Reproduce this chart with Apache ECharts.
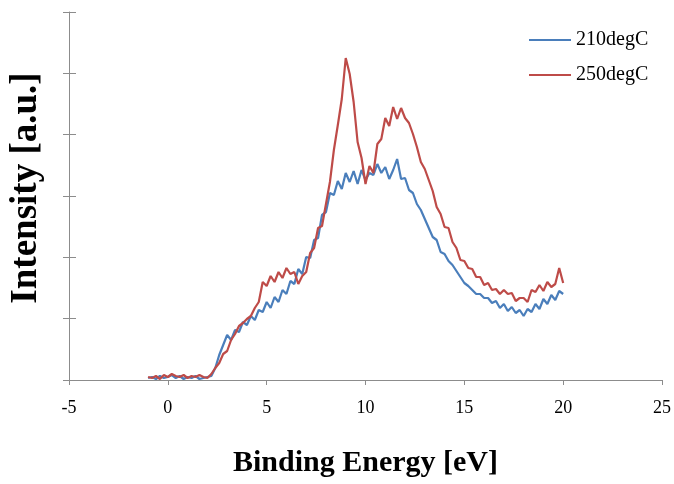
<!DOCTYPE html>
<html><head><meta charset="utf-8">
<script src="https://cdn.jsdelivr.net/npm/echarts@6/dist/echarts.min.js"></script>
<style>html,body{margin:0;padding:0;background:#fff}#c{width:674px;height:484px}</style>
</head><body><div id="c"></div>
<script>
const energies = [
 -1.0,-0.8,-0.6,-0.4,-0.2,0.0,0.2,0.4,0.6,0.8,
 1.0,1.2,1.4,1.6,1.8,2.0,2.2,2.4,2.6,2.8,
 3.0,3.2,3.4,3.6,3.8,4.0,4.2,4.4,4.6,4.8,
 5.0,5.2,5.4,5.6,5.8,6.0,6.2,6.4,6.6,6.8,
 7.0,7.2,7.4,7.6,7.8,8.0,8.2,8.4,8.6,8.8,
 9.0,9.2,9.4,9.6,9.8,10.0,10.2,10.4,10.6,10.8,
 11.0,11.2,11.4,11.6,11.8,12.0,12.2,12.4,12.6,12.8,
 13.0,13.2,13.4,13.6,13.8,14.0,14.2,14.4,14.6,14.8,
 15.0,15.2,15.4,15.6,15.8,16.0,16.2,16.4,16.6,16.8,
 17.0,17.2,17.4,17.6,17.8,18.0,18.2,18.4,18.6,18.8,
 19.0,19.2,19.4,19.6,19.8,20.0
];
const s210 = [
 2,3,1,4,2,3,5,2,4,1,3,2,4,1,2,3,
 4,12,25,35,45,40,50,48,58,55,
 64,60,70,68,78,72,83,78,90,86,
 99,96,111,106,123,122,140,142,165,168,
 187,185,199,191,207,198,209,196,210,200,
 207,205,216,207,213,201,210,221,201,202,
 190,187,176,170,161,152,143,140,128,126,
 119,115,109,103,97,94,90,86,86,82,
 82,77,79,72,76,69,73,67,70,64,
 71,68,76,71,81,76,85,80,89,86
];
const s250 = [
 3,2,4,1,5,3,6,4,3,5,2,4,3,5,3,2,
 6,12,17,26,29,40,46,54,57,61,
 64,72,78,98,94,104,98,108,102,112,
 106,108,96,104,108,127,132,152,154,176,
 198,230,255,281,322,306,278,238,222,196,
 214,207,236,241,262,254,273,261,272,262,
 257,246,233,218,211,200,189,173,166,153,
 152,138,132,120,119,112,111,103,103,95,
 97,90,91,86,90,86,87,79,82,82,
 78,90,88,95,89,98,93,96,112,97
];
const seriesNames = ['210degC', '250degC'];
const xMin = -5, xMax = 25, xStep = 5;
const yMin = 0, yMax = 368, yDivisions = 6;

const serif = 'Liberation Serif';
const axisGray = '#8c8c8c';
const chart = echarts.init(document.getElementById('c'));
const yAxisBase = {
  type: 'value', min: yMin, max: yMax, interval: (yMax - yMin) / yDivisions,
  position: 'left', axisLabel: { show: false }, splitLine: { show: false }
};
chart.setOption({
  animation: false,
  backgroundColor: '#fff',
  grid: { left: 68, right: 11, top: 12, bottom: 104 },
  legend: {
    data: seriesNames, orient: 'vertical', left: 524, top: 25,
    icon: 'rect', itemWidth: 42, itemHeight: 2, itemGap: 15,
    textStyle: { fontFamily: serif, fontSize: 20, color: '#000' }
  },
  xAxis: {
    type: 'value', min: xMin, max: xMax, interval: xStep,
    axisLine: { onZero: false, lineStyle: { color: axisGray, width: 1 } },
    axisTick: { show: true, length: 5, lineStyle: { color: axisGray } },
    axisLabel: { fontFamily: serif, fontSize: 18, color: '#000', margin: 19 },
    splitLine: { show: false },
    name: 'Binding Energy [eV]', nameLocation: 'middle', nameGap: 68,
    nameTextStyle: { fontFamily: serif, fontWeight: 'bold', fontSize: 30, color: '#000' }
  },
  yAxis: [
    Object.assign({}, yAxisBase, {
      axisLine: { show: true, onZero: false, lineStyle: { color: axisGray, width: 1 } },
      axisTick: { show: true, length: 6, lineStyle: { color: axisGray } },
      name: 'Intensity [a.u.]', nameLocation: 'middle', nameGap: 24,
      nameTextStyle: { fontFamily: serif, fontWeight: 'bold', fontSize: 37, color: '#000', padding: [0, 0, 0, 16] }
    }),
    Object.assign({}, yAxisBase, {
      axisLine: { show: false, onZero: false },
      axisTick: { show: true, inside: true, length: 7, lineStyle: { color: axisGray } }
    })
  ],
  series: [
    { name: seriesNames[0], type: 'line', symbol: 'none', yAxisIndex: 0,
      lineStyle: { color: '#4A7EBB', width: 2.2 }, itemStyle: { color: '#4A7EBB' },
      data: energies.map((e, i) => [e, s210[i]]) },
    { name: seriesNames[1], type: 'line', symbol: 'none', yAxisIndex: 0,
      lineStyle: { color: '#BE4B48', width: 2.2 }, itemStyle: { color: '#BE4B48' },
      data: energies.map((e, i) => [e, s250[i]]) }
  ]
});
</script></body></html>
